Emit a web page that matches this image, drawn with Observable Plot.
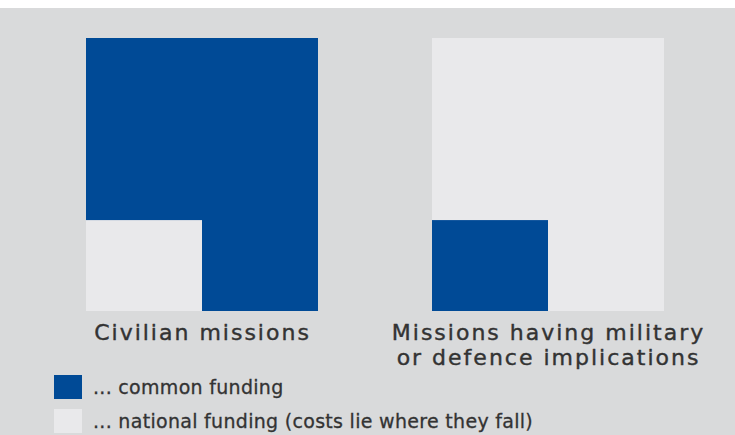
<!DOCTYPE html>
<html>
<head>
<meta charset="utf-8">
<script src="https://cdn.jsdelivr.net/npm/d3@7"></script>
<script src="https://cdn.jsdelivr.net/npm/@observablehq/plot@0.6"></script>
<style>
  html, body { margin: 0; padding: 0; background: #ffffff; }
  #wrap { margin-top: 8px; width: 735px; height: 427px; background: #d9dadb; overflow: hidden; font-family: "DejaVu Sans", sans-serif; color: #333; }
  #chart svg { display: block; letter-spacing: 2px; }
  .legend { margin-left: 54px; margin-top: 2px; }
  .item { display: flex; align-items: center; height: 24px; margin-bottom: 10px; font-size: 19px; letter-spacing: 0.3px; -webkit-text-stroke: 0.3px #333; }
  .sw { width: 28px; height: 24px; margin-right: 11px; flex: none; }
</style>
</head>
<body>
<div id="wrap">
  <div id="chart"></div>
  <div class="legend" id="legend"></div>
</div>
<script>
// ---- data ----
const categories = ["Civilian missions", "Missions having military or defence implications"];
const categoryLabels = ["Civilian missions", "Missions having military\nor defence implications"];
const outerFunding = ["common", "national"];   // funding type of the whole block
const innerFunding = ["national", "common"];   // funding type of the lower-left part
const innerWidthShare = [0.5, 0.5];
const innerHeightShare = [0.333, 0.333];
const fundingTypes = ["common", "national"];
const fundingLabels = ["... common funding", "... national funding (costs lie where they fall)"];
const fundingColors = ["#004a96", "#e9e9eb"];

// ---- table ----
const rows = [];
categories.forEach((c, i) => {
  rows.push({category: c, funding: outerFunding[i], w: 1, h: 1});
  rows.push({category: c, funding: innerFunding[i], w: innerWidthShare[i], h: innerHeightShare[i]});
});
const labelRows = categories.map((c, i) => ({category: c, label: categoryLabels[i]}));

const chart = Plot.plot({
  width: 735,
  height: 365,
  marginTop: 30,
  marginBottom: 62,
  marginLeft: 85,
  marginRight: 70,
  style: {background: "transparent", fontFamily: "DejaVu Sans", color: "#333"},
  fx: {domain: categories, paddingInner: 0.3285, paddingOuter: 0, axis: null},
  x: {domain: [0, 1], axis: null},
  y: {domain: [0, 1], axis: null},
  color: {domain: fundingTypes, range: fundingColors},
  marks: [
    Plot.rect(rows, {fx: "category", x1: 0, x2: "w", y1: 0, y2: "h", fill: "funding"}),
    Plot.text(labelRows, {
      fx: "category",
      text: "label",
      frameAnchor: "bottom",
      lineAnchor: "top",
      dy: 11,
      fontSize: 22,
      lineHeight: 1.14,
      fill: "#333",
      stroke: "#333",
      strokeWidth: 0.4
    })
  ]
});
document.getElementById("chart").appendChild(chart);

const legend = document.getElementById("legend");
fundingTypes.forEach((t, i) => {
  const item = document.createElement("div");
  item.className = "item";
  const sw = document.createElement("div");
  sw.className = "sw";
  sw.style.background = fundingColors[i];
  const lab = document.createElement("span");
  lab.textContent = fundingLabels[i];
  item.appendChild(sw);
  item.appendChild(lab);
  legend.appendChild(item);
});
</script>
</body>
</html>
